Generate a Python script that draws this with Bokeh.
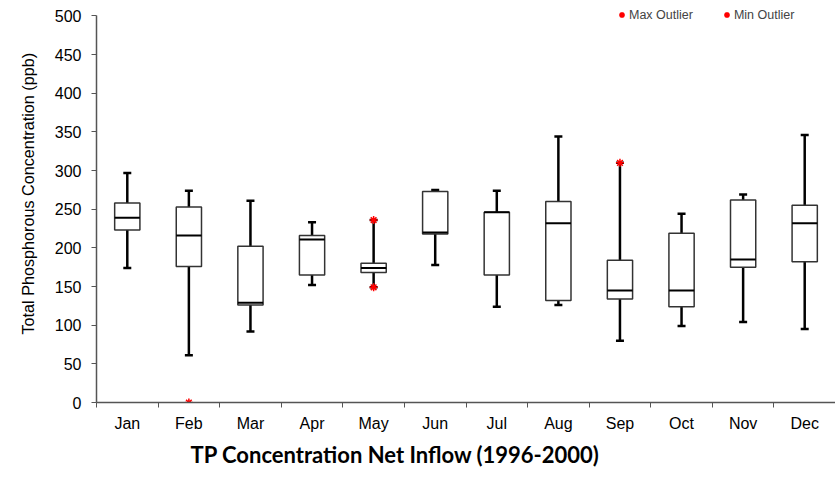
import numpy as np
from bokeh.plotting import figure
from bokeh.models import (ColumnDataSource, FixedTicker, Range1d, Legend, LegendItem, Title)
from bokeh.embed import file_html
from bokeh.resources import INLINE

months = ["Jan", "Feb", "Mar", "Apr", "May", "Jun", "Jul", "Aug", "Sep", "Oct", "Nov", "Dec"]
whisker_low = [174, 61, 92, 152, 149, 178, 124, 126, 80, 99, 104, 95]
q1 = [223, 176, 126, 165, 168, 218, 165, 132, 134, 124, 175, 182]
median = [239, 216, 129, 211, 174, 220, 246, 232, 145, 145, 185, 232]
q3 = [258, 253, 202, 216, 180, 273, 246, 260, 184, 219, 262, 255]
whisker_high = [297, 274, 261, 233, 236, 275, 274, 344, 310, 244, 269, 346]

max_outlier_month = ["May", "Sep"]
max_outlier_value = [236, 310]
min_outlier_month = ["Feb", "May"]
min_outlier_value = [0, 149]

y_ticks = [0, 50, 100, 150, 200, 250, 300, 350, 400, 450, 500]

xpos = np.arange(len(months)) + 0.5
half = 0.205
src = ColumnDataSource(dict(
    x=xpos, x0=xpos - half, x1=xpos + half,
    lo=whisker_low, q1=q1, med=median, q3=q3, hi=whisker_high,
))

p = figure(width=835, height=476, output_backend="svg", toolbar_location=None,
           x_range=Range1d(0, 12), y_range=Range1d(0, 520),
           min_border_left=96, min_border_right=0, min_border_top=0, min_border_bottom=74)
p.outline_line_color = None
p.grid.visible = False
p.background_fill_color = "white"

# whiskers
p.segment(x0="x", y0="lo", x1="x", y1="q1", source=src, line_color="black", line_width=2.5)
p.segment(x0="x", y0="q3", x1="x", y1="hi", source=src, line_color="black", line_width=2.5)
p.scatter(x="x", y="lo", source=src, marker="dash", size=8, line_color="black", line_width=2.5)
p.scatter(x="x", y="hi", source=src, marker="dash", size=8, line_color="black", line_width=2.5)
# boxes
p.vbar(x="x", width=2 * half, bottom="q1", top="q3", source=src,
       fill_color="white", line_color="#333333", line_width=1.5)
p.segment(x0="x0", y0="med", x1="x1", y1="med", source=src, line_color="black", line_width=2)

# outliers
mx = [months.index(m) + 0.5 for m in max_outlier_month]
mn = [months.index(m) + 0.5 for m in min_outlier_month]
r_max = p.scatter(mx, max_outlier_value, marker="asterisk", size=8, line_color="red", line_width=1.5)
r_min = p.scatter(mn, min_outlier_value, marker="asterisk", size=8, line_color="red", line_width=1.5)

legend = Legend(items=[LegendItem(label="Max Outlier", renderers=[r_max]),
                       LegendItem(label="Min Outlier", renderers=[r_min])],
                orientation="horizontal", location=(518, 380),
                label_text_font="Liberation Sans", label_text_font_size="12.5px",
                glyph_width=15, glyph_height=15, label_standoff=0, spacing=26,
                padding=0, margin=0, border_line_color=None, background_fill_alpha=0,
                label_height=12)
p.add_layout(legend, "center")

# x axis
xa = p.xaxis[0]
xa.ticker = FixedTicker(ticks=list(xpos), minor_ticks=list(range(0, 13)))
xa.major_label_overrides = {float(x): m for x, m in zip(xpos, months)}
xa.major_tick_out = 0
xa.major_tick_in = 0
xa.minor_tick_out = 5
xa.minor_tick_in = 0
xa.minor_tick_line_color = "#555555"
xa.axis_line_color = "#555555"
xa.axis_line_width = 1.5
xa.major_label_text_font = "Liberation Sans"
xa.major_label_text_font_size = "16px"
xa.major_label_text_color = "black"
xa.major_label_standoff = 7

# y axis
ya = p.yaxis[0]
ya.ticker = FixedTicker(ticks=y_ticks)
ya.bounds = (0, 500)
ya.minor_tick_line_color = None
ya.major_tick_out = 5
ya.major_tick_in = 0
ya.major_tick_line_color = "#555555"
ya.axis_line_color = "#555555"
ya.axis_line_width = 1.5
ya.major_label_text_font = "Liberation Sans"
ya.major_label_text_font_size = "16px"
ya.major_label_text_color = "black"
ya.major_label_standoff = 10

ytitle = Title(text="Total Phosphorous Concentration (ppb)", align="left", offset=68,
               vertical_align="top",
               text_font="Liberation Sans", text_font_size="16.2px", text_font_style="normal",
               text_color="black", standoff=26)
p.add_layout(ytitle, "left")

title = Title(text="TP Concentration Net Inflow (1996-2000)", align="left", offset=94,
              text_font="Lato", text_font_size="22px", text_font_style="bold",
              text_color="black", standoff=9)
p.add_layout(title, "below")

open("out.html", "w").write(file_html(p, INLINE))
